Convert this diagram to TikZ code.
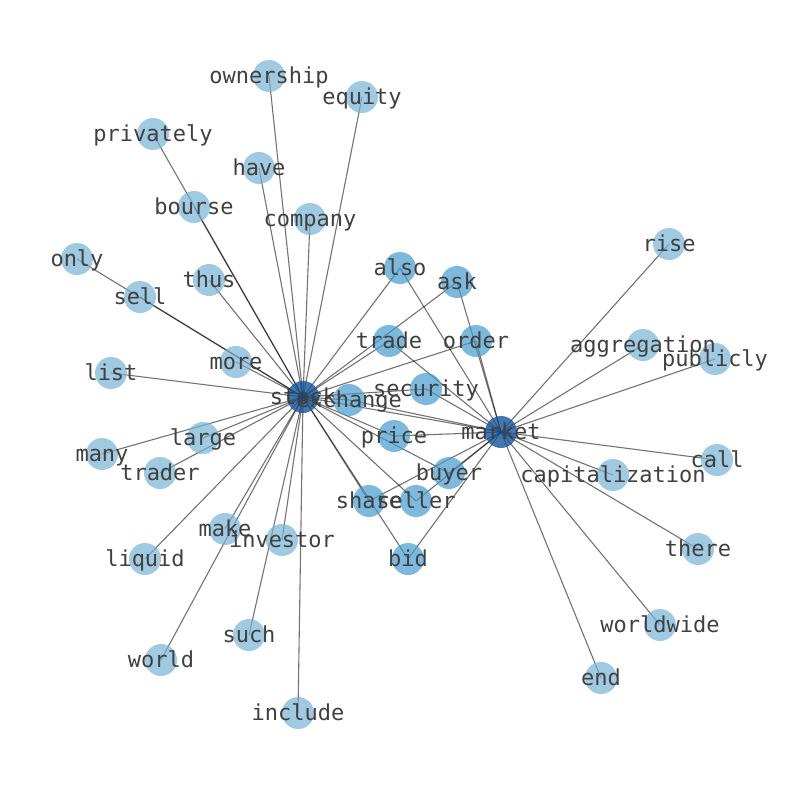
\documentclass[tikz,border=0pt]{standalone}
\usepackage{fontspec}
\setmonofont{DejaVu Sans Mono}
\definecolor{leafc}{RGB}{119,179,214}
\definecolor{midc}{RGB}{69,155,205}
\definecolor{hubc}{RGB}{20,85,155}
\definecolor{txtc}{RGB}{64,64,64}
\tikzset{
  nd/.style={circle,inner sep=0pt,minimum size=32pt,draw=none},
  leaf/.style={nd,fill=leafc,fill opacity=0.7},
  mid/.style={nd,fill=midc,fill opacity=0.7},
  hub/.style={nd,fill=hubc,fill opacity=0.8},
  edge/.style={draw=black,draw opacity=0.55,line width=1.1pt},
  lbl/.style={inner sep=0pt,yshift=-3pt,text=txtc,font=\ttfamily\fontsize{22}{24}\selectfont}
}
\begin{document}
\begin{tikzpicture}[x=1pt,y=-1pt]
\useasboundingbox (0,0) rectangle (794,790);
% coordinates
\foreach \n/\x/\y in {ownership/269/76, equity/362/97, privately/153/134, have/259/168,
  bourse/194/207, company/310/219, only/77/259, sell/140/297, thus/209/280,
  also/400/268, ask/457/282, rise/669/244, trade/389/341, order/476/341,
  aggregation/643/345, publicly/715/359, more/236/362, list/111/373,
  stock/303/397, exchange/349/400, security/426/389, price/394/436,
  market/501/432, large/203/438, many/102/454, trader/160/473, call/717/460,
  capitalization/613/475, buyer/449/473, share/369/501, seller/416/501,
  make/225/529, investor/282/540, liquid/145/559, bid/408/559, there/698/549,
  such/249/635, worldwide/660/625, world/161/660, end/601/678, include/298/713}
  {\coordinate (\n) at (\x,\y);}
% edges
\foreach \a in {ownership,equity,privately,have,bourse,company,only,sell,thus,
  also,ask,trade,order,more,list,exchange,security,price,market,large,many,
  trader,buyer,share,seller,make,investor,liquid,bid,such,world,include}
  {\draw[edge] (stock) -- (\a);}
\foreach \a in {exchange,security,trade,also,ask,order,price,buyer,seller,share,
  bid,rise,aggregation,publicly,call,capitalization,there,worldwide,end}
  {\draw[edge] (market) -- (\a);}
% nodes
\foreach \n in {ownership,equity,privately,have,bourse,company,only,sell,thus,
  rise,aggregation,publicly,more,list,large,many,trader,call,capitalization,
  make,investor,liquid,there,such,worldwide,world,end,include}
  {\node[leaf] (\n-n) at (\n) {};}
\foreach \n in {also,ask,trade,order,exchange,security,price,buyer,share,seller,bid}
  {\node[mid] (\n-n) at (\n) {};}
\foreach \n in {stock,market}
  {\node[hub] (\n-n) at (\n) {};}
% labels
\foreach \n in {ownership,equity,privately,have,bourse,company,only,sell,thus,
  also,ask,rise,trade,order,aggregation,publicly,more,list,stock,exchange,
  security,price,market,large,many,trader,call,capitalization,buyer,share,
  seller,make,investor,liquid,bid,there,such,worldwide,world,end,include}
  {\node[lbl] (\n-l) at (\n) {\strut\n};}
\end{tikzpicture}
\end{document}
